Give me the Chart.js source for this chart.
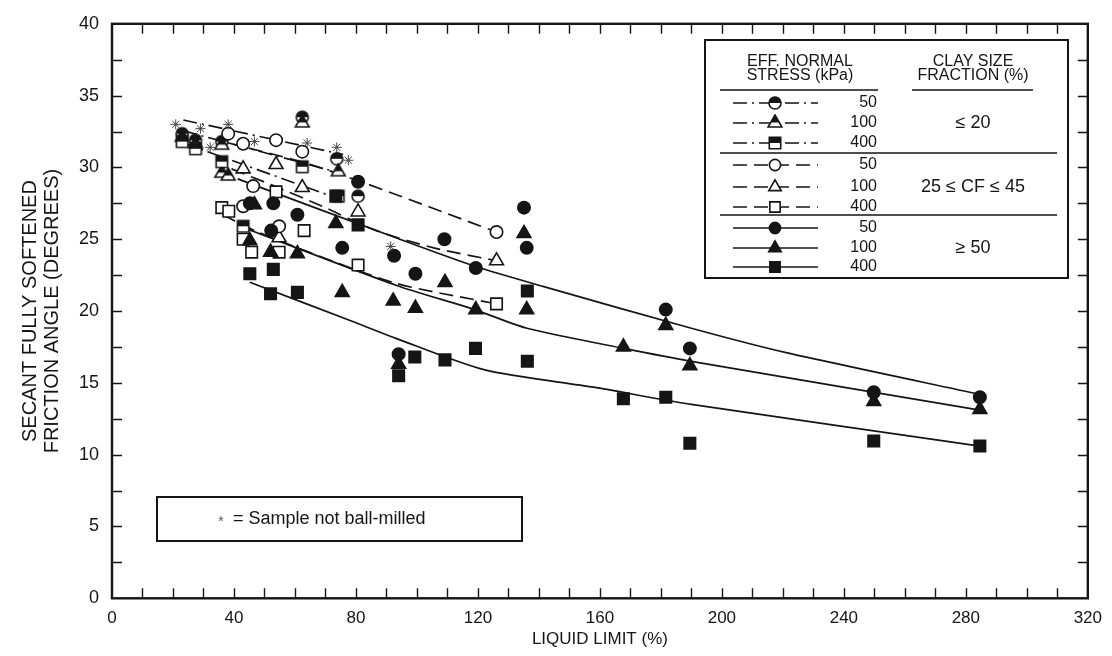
<!DOCTYPE html>
<html>
<head>
<meta charset="utf-8">
<script src="https://cdn.jsdelivr.net/npm/chart.js@4.4.1/dist/chart.umd.min.js"></script>
<style>
  html, body { margin: 0; padding: 0; background: #fff; }
  #wrap { width: 1112px; height: 656px; }
</style>
</head>
<body>
<div id="wrap"><canvas id="chart" width="1112" height="656"></canvas></div>
<script>
'use strict';

// measured points [liquid limit %, friction angle deg]
// clay size fraction <= 20 (half filled symbols)
const lowCf50 = [[23.0, 32.35], [27.4, 31.9], [36.0, 31.8], [62.4, 33.5], [73.7, 30.6], [80.7, 28.0]];
const lowCf100 = [[23.0, 32.1], [27.4, 31.65], [36.0, 31.55], [36.0, 29.6], [38.1, 29.4], [62.4, 33.1], [74.2, 29.7]];
const lowCf400 = [[23.0, 31.8], [27.4, 31.3], [36.0, 30.4], [43.0, 25.9], [62.4, 30.05], [74.2, 28.0]];

// 25 <= CF <= 45 (open symbols)
const midCf50 = [[38.1, 32.35], [43.0, 31.65], [53.8, 31.9], [62.4, 31.1], [46.3, 28.7], [43.0, 27.3], [54.8, 25.9], [126.1, 25.5]];
const midCf100 = [[43.0, 29.9], [53.8, 30.2], [62.4, 28.6], [80.7, 26.9], [54.8, 25.1], [126.1, 23.5]];
const midCf400 = [[36.0, 27.2], [38.3, 26.95], [53.8, 28.3], [63.0, 25.6], [43.0, 25.0], [45.8, 24.1], [54.8, 24.1], [80.7, 23.2], [126.1, 20.5]];

// CF >= 50 (filled symbols)
const highCf50 = [[45.2, 27.5], [52.9, 27.5], [60.8, 26.7], [52.2, 25.6], [75.5, 24.4], [80.7, 29.0], [92.5, 23.85], [94.0, 17.0],
  [99.5, 22.6], [109.0, 25.0], [119.3, 23.0], [135.1, 27.2], [136.0, 24.4], [181.6, 20.1], [189.5, 17.4], [249.8, 14.35], [284.6, 14.0]];
const highCf100 = [[46.7, 27.4], [45.2, 24.9], [52.0, 24.1], [60.8, 24.0], [73.4, 26.1], [75.5, 21.3], [92.2, 20.7], [94.0, 16.3],
  [99.5, 20.2], [109.2, 22.0], [119.3, 20.1], [135.1, 25.4], [136.0, 20.1], [167.7, 17.5], [181.6, 19.0], [189.5, 16.2], [249.8, 13.7], [284.6, 13.15]];
const highCf400 = [[45.2, 22.6], [52.9, 22.9], [52.0, 21.2], [60.8, 21.3], [73.4, 28.0], [80.7, 26.0], [94.0, 15.5], [99.3, 16.8],
  [109.2, 16.6], [119.2, 17.4], [136.2, 16.5], [136.2, 21.4], [167.7, 13.9], [181.6, 14.0], [189.5, 10.8], [249.8, 10.95], [284.6, 10.6]];

// samples not ball-milled
const notMilled = [[20.9, 33.0], [29.0, 32.7], [32.2, 31.4], [38.1, 33.0], [46.7, 31.8], [64.0, 31.7], [73.7, 31.4], [77.5, 30.5], [91.4, 24.5]];

// trend lines
const fitLow50 = [[23.4, 33.3], [75.8, 30.9]];
const fitLow100 = [[23.4, 32.55], [73.3, 29.7]];
const fitLow400 = [[23.4, 31.7], [71.9, 28.0]];
const fitMid50 = [[38.2, 31.7], [62.0, 30.4], [81.7, 29.0], [126.1, 25.5]];
const fitMid100 = [[39.2, 29.9], [52.1, 28.8], [68.9, 27.3], [86.7, 25.6], [105.5, 24.4], [126.1, 23.5]];
const fitMid400 = [[36.3, 26.7], [47.8, 25.5], [92.0, 22.0], [126.1, 20.5]];
const fitHigh50 = [[41.2, 29.2], [93.1, 25.1], [119.3, 23.1], [141.6, 21.7], [190.0, 18.8], [221.1, 17.1], [284.6, 14.2]];
const fitHigh100 = [[43.2, 25.8], [93.1, 21.8], [118.9, 20.1], [136.1, 18.8], [167.8, 17.4], [190.0, 16.5], [284.6, 13.1]];
const fitHigh400 = [[45.2, 22.0], [79.8, 19.2], [93.1, 18.1], [122.3, 15.9], [157.9, 14.7], [190.0, 13.5], [284.6, 10.6]];

const stressLabels = ['50', '100', '400'];
const groupLabels = ['\u2264 20', '25 \u2264 CF \u2264 45', '\u2265 50'];

const INK = '#151515';
const SANS = '"Liberation Sans", Arial, sans-serif';
const NARROW = '"Liberation Sans Narrow", "Liberation Sans", Arial, sans-serif';
const DASH_LOW = [14, 5, 2, 5];
const DASH_MID = [14, 7];

const toXY = arr => arr.map(p => ({x: p[0], y: p[1]}));

// half filled symbol images for CF <= 20
function halfMarker(shape) {
  const c = document.createElement('canvas');
  c.width = 18;
  c.height = 18;
  const g = c.getContext('2d');
  const path = () => {
    g.beginPath();
    if (shape === 'circle') {
      g.arc(9, 9, 6, 0, Math.PI * 2);
    } else if (shape === 'rect') {
      g.rect(3.3, 3.3, 11.4, 11.4);
    } else {
      g.moveTo(9, 1);
      g.lineTo(15.9, 13);
      g.lineTo(2.1, 13);
      g.closePath();
    }
  };
  path();
  g.fillStyle = '#fff';
  g.fill();
  g.save();
  path();
  g.clip();
  g.fillStyle = INK;
  g.fillRect(0, 0, 18, shape === 'triangle' ? 8.5 : 9);
  g.restore();
  path();
  g.lineWidth = 1.6;
  g.strokeStyle = INK;
  g.stroke();
  return c;
}

const halfCircle = halfMarker('circle');
const halfTriangle = halfMarker('triangle');
const halfRect = halfMarker('rect');

const markerStyles = {
  circle: {pointStyle: 'circle', radius: 6.2},
  triangle: {pointStyle: 'triangle', radius: 8},
  rect: {pointStyle: 'rect', radius: 8.1}
};

function pointSet(data, shape, fill) {
  const m = markerStyles[shape];
  return {
    data: toXY(data),
    pointStyle: m.pointStyle,
    pointRadius: m.radius,
    pointBackgroundColor: fill,
    pointBorderColor: INK,
    pointBorderWidth: 1.6,
    showLine: false,
    order: 1
  };
}

function halfSet(data, img) {
  return {
    data: toXY(data),
    pointStyle: img,
    pointRadius: 6,
    showLine: false,
    order: 1
  };
}

function lineSet(data, dash) {
  return {
    data: toXY(data),
    showLine: true,
    pointRadius: 0,
    borderColor: INK,
    borderWidth: 1.7,
    borderDash: dash,
    tension: 0.25,
    order: 2
  };
}

// frame with inward ticks on all four sides
const frameTicks = {
  id: 'frameTicks',
  afterDatasetsDraw(chart) {
    const {ctx, chartArea: a, scales: {x, y}} = chart;
    ctx.save();
    ctx.strokeStyle = INK;
    ctx.lineWidth = 1.4;
    ctx.beginPath();
    for (let v = 10; v < 320; v += 10) {
      const px = Math.round(x.getPixelForValue(v)) + 0.5;
      ctx.moveTo(px, a.bottom);
      ctx.lineTo(px, a.bottom - 10);
      ctx.moveTo(px, a.top);
      ctx.lineTo(px, a.top + 10);
    }
    for (let v = 2.5; v < 40; v += 2.5) {
      const py = Math.round(y.getPixelForValue(v)) + 0.5;
      ctx.moveTo(a.left, py);
      ctx.lineTo(a.left + 10, py);
      ctx.moveTo(a.right, py);
      ctx.lineTo(a.right - 10, py);
    }
    ctx.stroke();
    ctx.lineWidth = 2.4;
    ctx.strokeRect(a.left, a.top, a.width, a.height);
    ctx.restore();
  }
};

// legend boxes drawn like the printed figure
const legendBox = {
  id: 'legendBox',
  afterDraw(chart) {
    const ctx = chart.ctx;
    const drawPoint = Chart.helpers.drawPoint;
    ctx.save();
    ctx.strokeStyle = INK;

    ctx.lineWidth = 2;
    ctx.fillStyle = '#fff';
    ctx.fillRect(705, 40, 363, 238);
    ctx.strokeRect(705, 40, 363, 238);

    ctx.fillStyle = INK;
    ctx.textAlign = 'center';
    ctx.textBaseline = 'middle';
    ctx.font = '16px ' + SANS;
    ctx.fillText('EFF. NORMAL', 800, 62);
    ctx.fillText('STRESS (kPa)', 800, 76);
    ctx.fillText('CLAY SIZE', 973, 62);
    ctx.fillText('FRACTION (%)', 973, 76);

    ctx.lineWidth = 1.6;
    ctx.beginPath();
    ctx.moveTo(720, 90); ctx.lineTo(878, 90);
    ctx.moveTo(912, 90); ctx.lineTo(1033, 90);
    ctx.moveTo(720, 153); ctx.lineTo(1057, 153);
    ctx.moveTo(720, 215); ctx.lineTo(1057, 215);
    ctx.stroke();

    const rowsY = [[103, 123, 143], [165, 187, 207], [228, 248, 267]];
    const dashes = [DASH_LOW, DASH_MID, []];
    const marks = [
      [halfCircle, halfTriangle, halfRect],
      ['circle', 'triangle', 'rect'],
      ['circle', 'triangle', 'rect']
    ];
    const fills = ['#fff', '#fff', INK];
    for (let g = 0; g < 3; g++) {
      for (let r = 0; r < 3; r++) {
        const yy = rowsY[g][r];
        ctx.lineWidth = 1.4;
        ctx.setLineDash(dashes[g]);
        ctx.beginPath();
        ctx.moveTo(733, yy);
        ctx.lineTo(818, yy);
        ctx.stroke();
        ctx.setLineDash([]);
        const mk = marks[g][r];
        if (typeof mk === 'string') {
          const m = markerStyles[mk];
          ctx.fillStyle = fills[g];
          ctx.lineWidth = 1.6;
          drawPoint(ctx, {pointStyle: m.pointStyle, radius: m.radius * 0.9, borderWidth: 1.6, rotation: 0}, 775, yy);
        } else {
          ctx.drawImage(mk, 775 - 9, yy - 9);
        }
        ctx.fillStyle = INK;
        ctx.textAlign = 'right';
        ctx.font = '16px ' + SANS;
        ctx.fillText(stressLabels[r], 877, yy);
      }
      ctx.textAlign = 'center';
      ctx.font = '18px ' + SANS;
      ctx.fillText(groupLabels[g], 973, rowsY[g][1]);
    }

    // not ball-milled note
    ctx.lineWidth = 2;
    ctx.strokeRect(157, 497, 365, 44);
    ctx.fillStyle = '#555';
    ctx.font = '14px ' + SANS;
    ctx.textAlign = 'center';
    ctx.fillText('*', 221, 522);
    ctx.fillStyle = INK;
    ctx.font = '18px ' + SANS;
    ctx.textAlign = 'left';
    ctx.fillText('= Sample not ball-milled', 233, 519);
    ctx.restore();
  }
};

const datasets = [
  pointSet(highCf50, 'circle', INK),
  pointSet(highCf100, 'triangle', INK),
  pointSet(highCf400, 'rect', INK),
  pointSet(midCf50, 'circle', '#fff'),
  pointSet(midCf100, 'triangle', '#fff'),
  pointSet(midCf400, 'rect', '#fff'),
  halfSet(lowCf400, halfRect),
  halfSet(lowCf100, halfTriangle),
  halfSet(lowCf50, halfCircle),
  {
    data: toXY(notMilled),
    pointStyle: 'star',
    pointRadius: 5,
    pointBorderColor: '#444',
    pointBorderWidth: 1,
    showLine: false,
    order: 0
  },
  lineSet(fitLow50, DASH_LOW),
  lineSet(fitLow100, DASH_LOW),
  lineSet(fitLow400, DASH_LOW),
  lineSet(fitMid50, DASH_MID),
  lineSet(fitMid100, DASH_MID),
  lineSet(fitMid400, DASH_MID),
  lineSet(fitHigh50, []),
  lineSet(fitHigh100, []),
  lineSet(fitHigh400, [])
];

const canvasElem = document.getElementById('chart');

new Chart(canvasElem.getContext('2d'), {
  type: 'scatter',
  data: {datasets: datasets},
  options: {
    responsive: false,
    animation: false,
    devicePixelRatio: 1,
    layout: {padding: {left: 0, right: 10, top: 17, bottom: 0}},
    plugins: {
      legend: {display: false},
      tooltip: {enabled: false}
    },
    scales: {
      x: {
        type: 'linear',
        min: 0,
        max: 320,
        ticks: {
          stepSize: 40,
          color: INK,
          padding: 10,
          maxRotation: 0,
          font: {family: NARROW, size: 17}
        },
        grid: {display: false, drawTicks: false},
        border: {display: false},
        title: {
          display: true,
          text: 'LIQUID LIMIT (%)',
          color: INK,
          font: {family: NARROW, size: 17},
          padding: {top: 0, bottom: 6}
        },
        afterFit(scale) { scale.height = 57.7; }
      },
      y: {
        min: 0,
        max: 40,
        ticks: {
          stepSize: 5,
          color: INK,
          padding: 13,
          font: {family: SANS, size: 18}
        },
        grid: {display: false, drawTicks: false},
        border: {display: false},
        title: {
          display: true,
          text: ['SECANT FULLY SOFTENED', 'FRICTION ANGLE (DEGREES)'],
          color: INK,
          font: {family: SANS, size: 20, lineHeight: 1.1},
          padding: {top: 19, bottom: 0}
        },
        afterFit(scale) { scale.width = 112; }
      }
    }
  },
  plugins: [frameTicks, legendBox]
});
</script>
</body>
</html>
